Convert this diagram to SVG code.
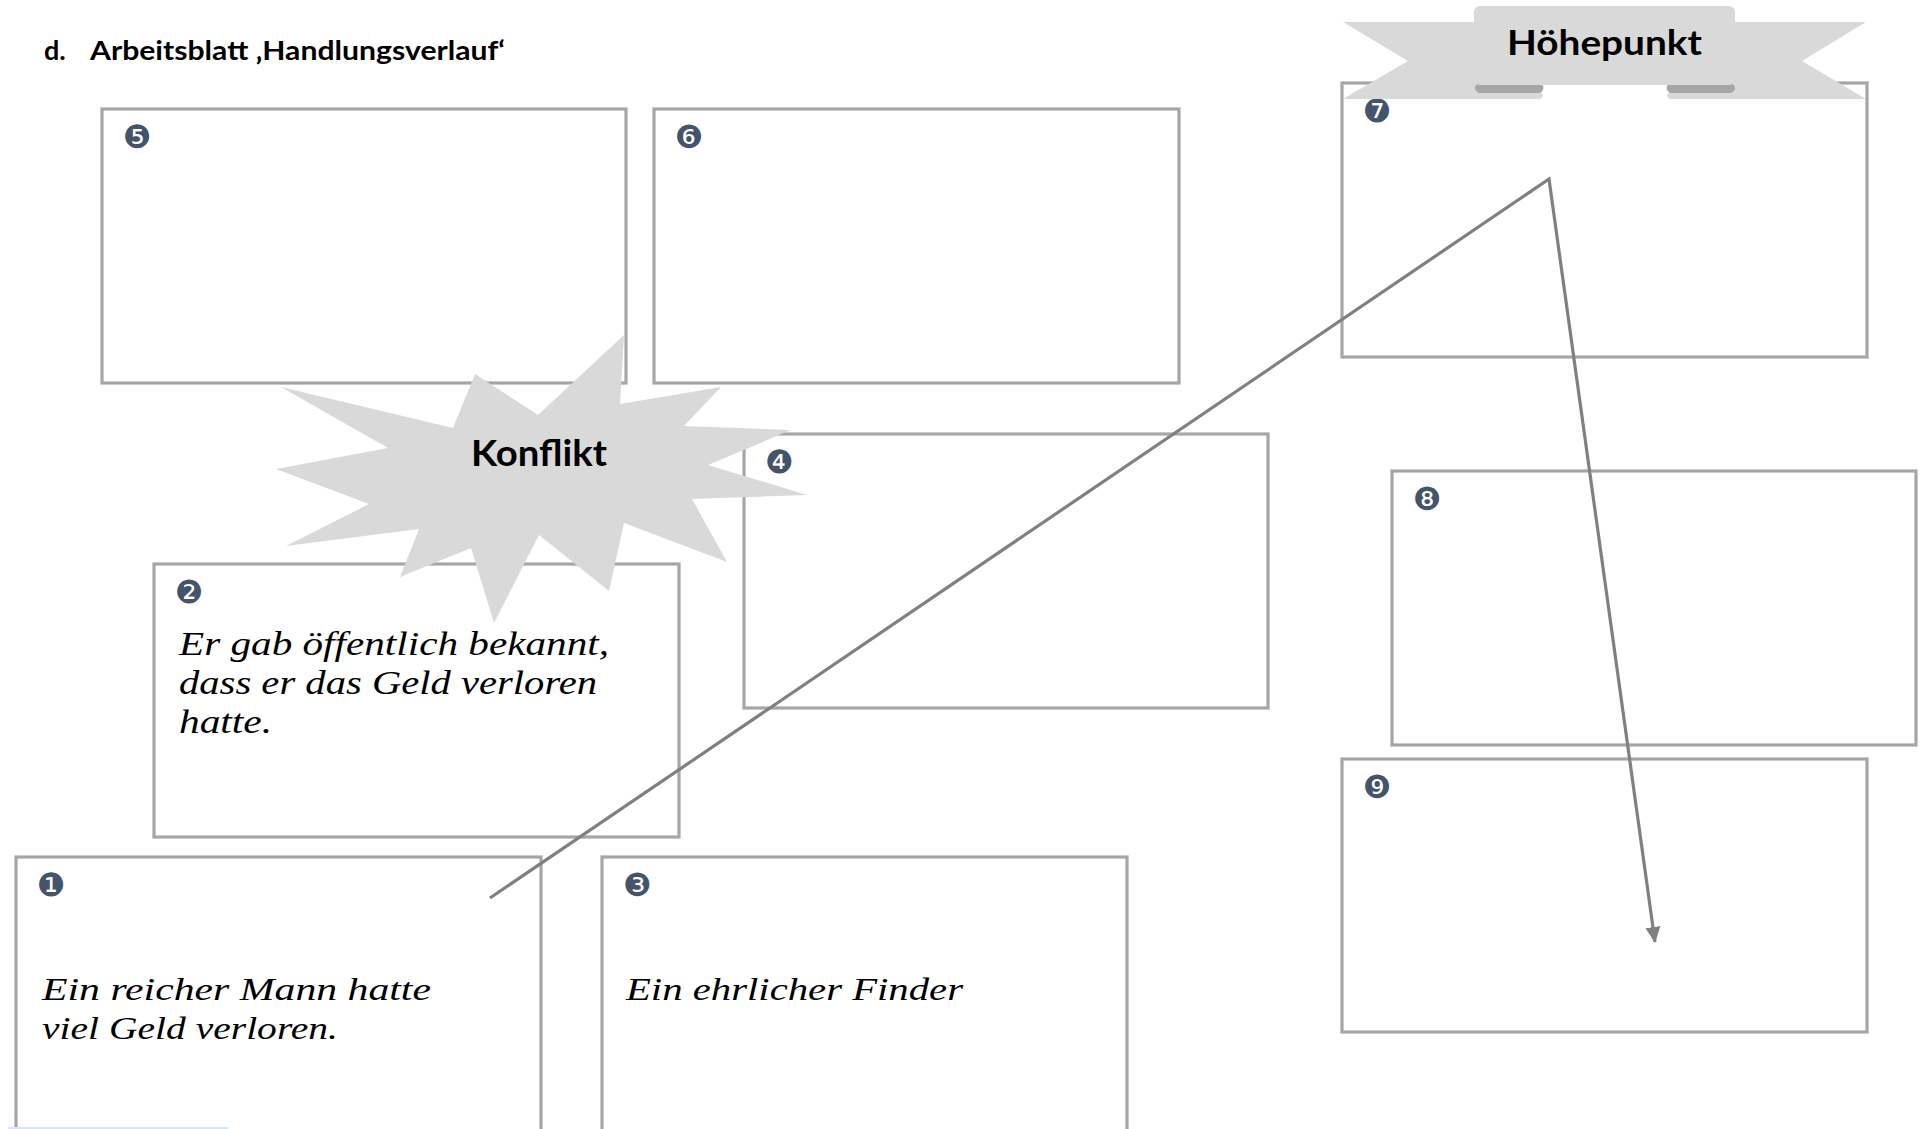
<svg xmlns="http://www.w3.org/2000/svg" width="1922" height="1129" viewBox="0 0 1922 1129">
<defs>
<style>
.box{fill:#ffffff;stroke:#a6a6a6;stroke-width:3.2}
.num{font-family:"DejaVu Sans",sans-serif;font-size:32px;fill:#44546a;text-anchor:middle;dominant-baseline:central}
.hand{font-family:"Liberation Serif",serif;font-style:italic;fill:#000}
.head{font-family:Lato,"Liberation Sans",sans-serif;font-weight:bold;fill:#000}
.conn{fill:none;stroke:#808080;stroke-width:3.2;stroke-linejoin:miter}
.shape{fill:#d9d9d9}
.fold{fill:#a6a6a6}
</style>
<marker id="arrow" markerUnits="userSpaceOnUse" markerWidth="16" markerHeight="16" viewBox="0 0 16 16" refX="15" refY="8" orient="auto">
<path d="M0,0.5 L16,8 L0,15.5 Z" fill="#808080"/>
</marker>
</defs>
<rect width="1922" height="1129" fill="#ffffff"/>
<text class="head" x="44" y="60" font-size="27">d.</text>
<text class="head" x="90" y="60" font-size="27" textLength="415" lengthAdjust="spacingAndGlyphs">Arbeitsblatt ‚Handlungsverlauf‘</text>

<g id="node5"><rect class="box" x="102" y="109" width="524" height="274"/><text class="num" x="137" y="137">❺</text></g>
<g id="node6"><rect class="box" x="654" y="109" width="525" height="274"/><text class="num" x="689" y="137">❻</text></g>
<g id="node7"><rect class="box" x="1342" y="83" width="525" height="274"/><text class="num" x="1377" y="111">❼</text></g>
<g id="node4"><rect class="box" x="744" y="434" width="524" height="274"/><text class="num" x="779" y="462">❹</text></g>
<g id="node8"><rect class="box" x="1392" y="471" width="524" height="274"/><text class="num" x="1427" y="499">❽</text></g>
<g id="node9"><rect class="box" x="1342" y="759" width="525" height="273"/><text class="num" x="1377" y="787">❾</text></g>
<g id="node2"><rect class="box" x="154" y="564" width="525" height="273"/><text class="num" x="189" y="592">❷</text>
<text class="hand" font-size="33" x="179" y="655" textLength="430" lengthAdjust="spacingAndGlyphs">Er gab öffentlich bekannt,</text>
<text class="hand" font-size="33" x="179" y="694" textLength="418" lengthAdjust="spacingAndGlyphs">dass er das Geld verloren</text>
<text class="hand" font-size="33" x="179" y="733" textLength="93" lengthAdjust="spacingAndGlyphs">hatte.</text>
</g>
<g id="node1"><rect class="box" x="16" y="857" width="525" height="290"/><text class="num" x="51" y="885">❶</text>
<text class="hand" font-size="31" x="42" y="1000" textLength="389" lengthAdjust="spacingAndGlyphs">Ein reicher Mann hatte</text>
<text class="hand" font-size="31" x="42" y="1039" textLength="296" lengthAdjust="spacingAndGlyphs">viel Geld verloren.</text>
</g>
<g id="node3"><rect class="box" x="602" y="857" width="525" height="290"/><text class="num" x="637" y="885">❸</text>
<text class="hand" font-size="31" x="626" y="1000" textLength="337" lengthAdjust="spacingAndGlyphs">Ein ehrlicher Finder</text>
</g>
<rect x="8" y="1127" width="220" height="2" fill="#dae3f3"/>

<g id="connectors">
<polyline class="conn" points="490,898 1549,179 1655,942" marker-end="url(#arrow)"/>
</g>

<g id="konflikt">
<polygon class="shape" points="276,469 388,448 281,387 453,428 475,374 538,415 624,335 620,404 721,387 684,426 791,430 708,465 807,495 692,499 727,562 624,523 609,591 539,535 494,623 471,548 400,577 419,529 286,546 369,504"/>
<text class="head" x="539" y="466" font-size="36" text-anchor="middle" textLength="136" lengthAdjust="spacingAndGlyphs">Konflikt</text>
</g>

<g id="hoehepunkt">
<path class="shape" d="M1343,22 H1540 V92 Q1546,95.5 1540,99 H1343 L1408,61 Z"/>
<path class="shape" d="M1866,22 H1670 V92 Q1664,95.5 1670,99 H1866 L1802,61 Z"/>
<path class="fold" d="M1479,83 H1540 Q1547,88 1540,93 H1479 Q1471,88 1479,83 Z"/>
<path class="fold" d="M1670,83 H1731 Q1739,88 1731,93 H1670 Q1663,88 1670,83 Z"/>
<rect class="shape" x="1474" y="6" width="261" height="79" rx="6" fill="#dadada"/>
<text class="head" x="1604.5" y="55" font-size="35" text-anchor="middle" textLength="195" lengthAdjust="spacingAndGlyphs">Höhepunkt</text>
</g>
</svg>
